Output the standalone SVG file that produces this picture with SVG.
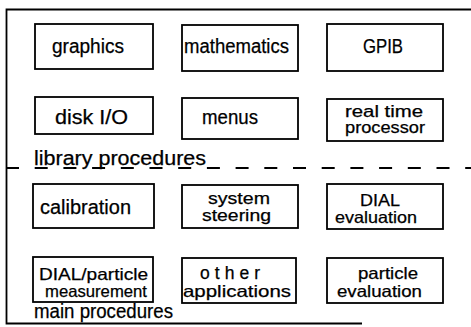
<svg xmlns="http://www.w3.org/2000/svg" width="471" height="327" viewBox="0 0 471 327">
<style>
.box{fill:#fff;stroke:#000;stroke-width:1.8}
.t{font-family:"Liberation Sans",Arial,sans-serif;font-size:20px;fill:#000;stroke:#000;stroke-width:0.25}
.s{font-size:16.5px}
.frame{fill:none;stroke:#000;stroke-width:1.8}
</style>
<rect width="471" height="327" fill="#fff"/>
<g id="frame">
<path class="frame" d="M471,9.5 H6.5 V323.5 H362"/>
<line x1="6" y1="168" x2="471" y2="168" stroke="#000" stroke-width="2" stroke-dasharray="13 15.7"/>
<text class="t" x="34" y="165" textLength="172" lengthAdjust="spacingAndGlyphs">library procedures</text>
<text class="t" x="34" y="318" textLength="139" lengthAdjust="spacingAndGlyphs">main procedures</text>
</g>
<g id="connectors"></g>
<g id="graphics"><rect class="box" x="35" y="24" width="118" height="45"/><text class="t" x="52" y="53" textLength="72" lengthAdjust="spacingAndGlyphs">graphics</text></g>
<g id="mathematics"><rect class="box" x="182" y="25" width="116" height="46"/><text class="t" x="184" y="53" textLength="105" lengthAdjust="spacingAndGlyphs">mathematics</text></g>
<g id="gpib"><rect class="box" x="327" y="24" width="116" height="47"/><text class="t" x="363" y="53" textLength="40" lengthAdjust="spacingAndGlyphs">GPIB</text></g>
<g id="disk"><rect class="box" x="35" y="97" width="118" height="37"/><text class="t" x="55" y="124" textLength="73" lengthAdjust="spacingAndGlyphs">disk I/O</text></g>
<g id="menus"><rect class="box" x="182" y="98" width="116" height="41"/><text class="t" x="202" y="124" textLength="56" lengthAdjust="spacingAndGlyphs">menus</text></g>
<g id="realtime"><rect class="box" x="327" y="99" width="116" height="42"/><text class="t" x="345" y="116.5" textLength="78" lengthAdjust="spacingAndGlyphs" style="font-size:16px">real time</text><text class="t" x="345" y="133" textLength="80" lengthAdjust="spacingAndGlyphs" style="font-size:16px">processor</text></g>
<g id="calibration"><rect class="box" x="33" y="184" width="121" height="44"/><text class="t" x="40" y="214" textLength="91" lengthAdjust="spacingAndGlyphs">calibration</text></g>
<g id="steering"><rect class="box" x="182" y="185" width="116" height="43"/><text class="t s" x="208" y="204" textLength="62" lengthAdjust="spacingAndGlyphs">system</text><text class="t s" x="202" y="221" textLength="69" lengthAdjust="spacingAndGlyphs">steering</text></g>
<g id="dialeval"><rect class="box" x="327" y="184" width="116" height="45"/><text class="t s" x="360" y="206" textLength="40" lengthAdjust="spacingAndGlyphs">DIAL</text><text class="t s" x="335" y="223" textLength="82" lengthAdjust="spacingAndGlyphs">evaluation</text></g>
<g id="measurement"><rect class="box" x="33" y="257" width="120" height="45"/><text class="t s" x="39" y="280" textLength="109" lengthAdjust="spacingAndGlyphs">DIAL/particle</text><text class="t s" x="45" y="297" textLength="102" lengthAdjust="spacingAndGlyphs">measurement</text></g>
<g id="other"><rect class="box" x="182" y="258" width="114" height="45"/><text class="t" x="200" y="279" textLength="60" lengthAdjust="spacing" style="font-size:17.5px">other</text><text class="t s" x="183" y="297" textLength="108" lengthAdjust="spacingAndGlyphs">applications</text></g>
<g id="particleeval"><rect class="box" x="327" y="258" width="116" height="45"/><text class="t s" x="358" y="279" textLength="60" lengthAdjust="spacingAndGlyphs">particle</text><text class="t s" x="337" y="297" textLength="85" lengthAdjust="spacingAndGlyphs">evaluation</text></g>
</svg>
